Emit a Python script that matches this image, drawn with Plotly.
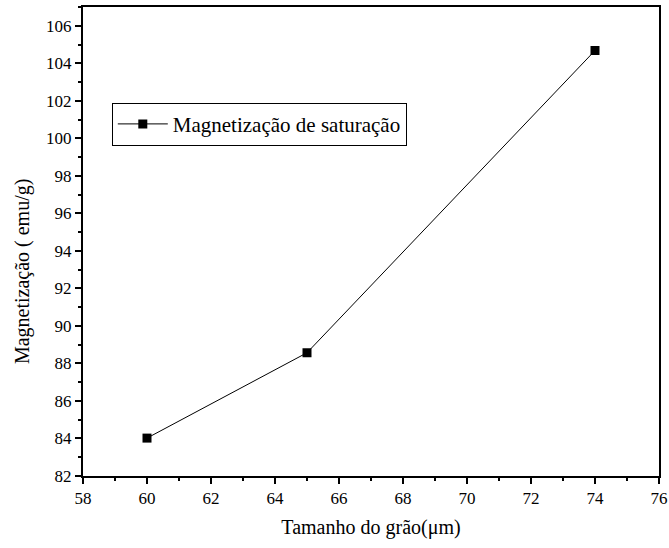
import plotly.graph_objects as go

grain_size = [60, 65, 74]
magnetization = [84.02, 88.57, 104.68]
series_name = "Magnetização de saturação"
x_title = "Tamanho do grão(μm)"
y_title = "Magnetização ( emu/g)"

SERIF = "Liberation Serif, Times New Roman, serif"

fig = go.Figure()
fig.add_trace(go.Scatter(
    x=grain_size, y=magnetization, mode="lines+markers", name=series_name,
    line=dict(color="black", width=1),
    marker=dict(symbol="square", size=9, color="black"),
))

axis_common = dict(
    showgrid=False, zeroline=False, showline=True, linecolor="black", linewidth=2,
    mirror=True, ticks="outside", ticklen=6, tickwidth=2, tickcolor="black",
    tickfont=dict(size=17, family=SERIF, color="black"), automargin=False,
)
fig.update_xaxes(range=[58, 76], dtick=2, tick0=58,
                 minor=dict(dtick=1, ticks="outside", ticklen=3, tickwidth=2, tickcolor="black"),
                 title=dict(text=x_title, font=dict(size=20, family=SERIF, color="black"), standoff=13),
                 **axis_common)
fig.update_yaxes(range=[82, 107], dtick=2, tick0=82,
                 minor=dict(dtick=1, ticks="outside", ticklen=3, tickwidth=2, tickcolor="black"),
                 **axis_common)
fig.add_annotation(text=y_title, xref="paper", yref="paper", x=-0.104, y=0.435,
                   xanchor="center", yanchor="middle", textangle=-90, showarrow=False,
                   font=dict(size=20, family=SERIF, color="black"))
fig.update_layout(
    width=669, height=548,
    margin=dict(l=83, r=10, t=7, b=72),
    plot_bgcolor="white", paper_bgcolor="white",
    font=dict(family=SERIF, color="black"),
    showlegend=True,
    legend=dict(x=0.05, y=0.75, xanchor="left", yanchor="middle",
                bordercolor="black", borderwidth=1, bgcolor="white",
                font=dict(size=21, family=SERIF, color="black"), itemwidth=50,
                tracegroupgap=0),
)
fig.write_html("out.html", config={"displayModeBar": False},
               post_script="document.body.style.margin='0';")
